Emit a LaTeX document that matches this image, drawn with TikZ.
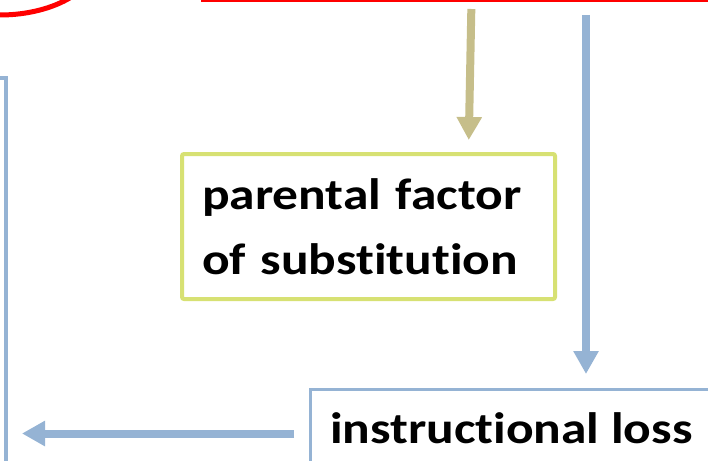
\documentclass[tikz,border=0pt]{standalone}
\usepackage{fontspec}
\setmainfont[Ligatures=NoCommon,FakeStretch=1.17]{Carlito}
\usetikzlibrary{arrows.meta,shapes.geometric}

\definecolor{boxblue}{RGB}{149,179,212}
\definecolor{boxgreen}{RGB}{215,225,115}
\definecolor{tanline}{RGB}{198,190,138}

\begin{document}
\begin{tikzpicture}[x=1pt,y=-1pt,outer sep=0pt,
  wordbox/.style={draw,fill=white,align=left,font=\bfseries\fontsize{44}{65}\selectfont},
  flowarrow/.style={line width=8pt,-{Triangle[length=23pt,width=24pt]}}]

\useasboundingbox (0,0) rectangle (708,460);
\clip (0,0) rectangle (708,460);

% red shapes at the top, mostly cut off
\node[draw=red,line width=5pt,ellipse,minimum width=200pt,minimum height=120pt] (oval) at (0,-45) {};
\node[draw=red,line width=4pt,minimum width=600pt,minimum height=100pt,anchor=south west] (redbox) at (203,0) {};

% the two boxes with text
\node[wordbox,draw=boxgreen,line width=4pt,rounded corners=2pt,
      minimum width=373pt,minimum height=145pt,text width=333pt,inner xsep=20pt]
      (parental) at (368.5,226.5) {parental factor\\of substitution};
\node[wordbox,draw=boxblue,line width=3pt,anchor=north west,
      text height=33pt,text depth=14pt,inner xsep=20pt,inner ysep=21pt]
      (loss) at (310,389) {instructional loss};

% box on the left, only its corner shows
\node[draw=boxblue,line width=4pt,minimum width=200pt,minimum height=500pt,anchor=north east] (leftbox) at (6,77.5) {};

% arrows
\draw[flowarrow,draw=tanline,shorten <=9pt,shorten >=14pt]
  ([xshift=268.5pt]redbox.south west) -- ([xshift=100pt]parental.north);
\draw[flowarrow,draw=boxblue,shorten <=15pt,shorten >=15pt]
  ([xshift=383pt]redbox.south west) -- ([xshift=276pt]loss.north west);
\draw[flowarrow,draw=boxblue,shorten <=16pt,shorten >=16pt]
  (loss.west) -- (loss.west -| leftbox.east);

\end{tikzpicture}
\end{document}
